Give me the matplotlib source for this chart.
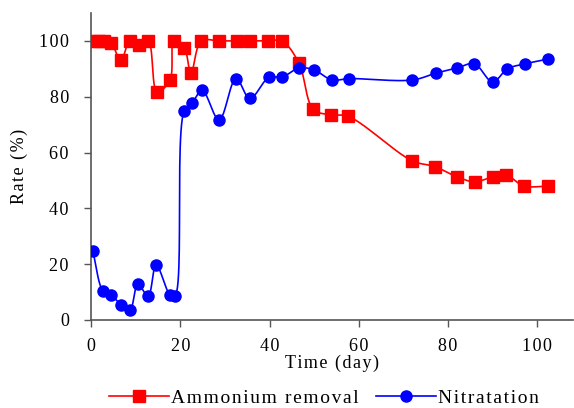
import numpy as np
import matplotlib
matplotlib.use("Agg")
import matplotlib.pyplot as plt
from matplotlib.lines import Line2D

plt.rcParams['font.family'] = ['Liberation Serif', 'DejaVu Serif']

amm_day = [0.2, 1.8, 3, 4.5, 6.7, 8.7, 10.8, 12.8, 14.8, 17.7, 18.6, 20.9, 22.4, 24.7,
           28.7, 32.7, 35.6, 39.7, 42.8, 46.6, 49.8, 53.8, 57.6, 72, 77, 82, 86, 90, 93, 97, 102.5]
amm_val = [100, 100, 100, 99.3, 93, 100, 98.6, 100, 81.7, 86, 100, 97.5, 88.5, 100,
           100, 100, 100, 100, 100, 92, 75.5, 73.5, 73, 57, 55, 51.3, 49.5, 51.3, 52, 48, 48]

nit_day = [0.4, 2.7, 4.5, 6.7, 8.7, 10.5, 12.8, 14.6, 17.7, 18.8, 20.9, 22.6, 24.9, 28.7,
           32.5, 35.6, 39.9, 42.8, 46.6, 50, 54, 57.8, 72, 77.4, 82, 85.9, 90, 93.3, 97.3, 102.4]
nit_val = [24.7, 10.4, 9, 5.5, 3.5, 12.8, 8.6, 19.7, 9, 8.6, 75, 77.6, 82.3, 71.7,
           86.5, 79.4, 87, 87, 90.3, 89.6, 86, 86.5, 86, 88.5, 90.3, 91.8, 85.3, 90, 91.8, 93.5]

xticks = [0, 20, 40, 60, 80, 100]
yticks = [0, 20, 40, 60, 80, 100]

HS = '\u200a'


def spaced(s):
    return HS.join(s)


def smooth(x, y, sx=4.46, sy=2.79, n=24, alpha=0.5):
    # centripetal Catmull-Rom curve through the points (drawing only)
    P = np.column_stack([np.asarray(x, float) * sx, np.asarray(y, float) * sy])
    P = np.vstack([2 * P[0] - P[1], P, 2 * P[-1] - P[-2]])
    out = []
    for i in range(1, len(P) - 2):
        p0, p1, p2, p3 = P[i-1], P[i], P[i+1], P[i+2]
        t0 = 0.0
        t1 = t0 + max(np.linalg.norm(p1 - p0), 1e-6) ** alpha
        t2 = t1 + max(np.linalg.norm(p2 - p1), 1e-6) ** alpha
        t3 = t2 + max(np.linalg.norm(p3 - p2), 1e-6) ** alpha
        t = np.linspace(t1, t2, n, endpoint=False)[:, None]
        A1 = (t1 - t) / (t1 - t0) * p0 + (t - t0) / (t1 - t0) * p1
        A2 = (t2 - t) / (t2 - t1) * p1 + (t - t1) / (t2 - t1) * p2
        A3 = (t3 - t) / (t3 - t2) * p2 + (t - t2) / (t3 - t2) * p3
        B1 = (t2 - t) / (t2 - t0) * A1 + (t - t0) / (t2 - t0) * A2
        B2 = (t3 - t) / (t3 - t1) * A2 + (t - t1) / (t3 - t1) * A3
        C = (t2 - t) / (t2 - t1) * B1 + (t - t1) / (t2 - t1) * B2
        out.append(C)
    out.append(P[-2][None, :])
    out = np.vstack(out)
    return out[:, 0] / sx, out[:, 1] / sy


fig = plt.figure(figsize=(5.74, 4.08), dpi=100)
ax = fig.add_axes([91/574, 88/408, (573-91)/574, (320-13)/408])

cx, cy = smooth(amm_day, amm_val)
ax.plot(cx, cy, color='#ff0000', lw=1.2, zorder=2)
ax.plot(amm_day, amm_val, ls='none', marker='s', ms=8, color='#ff0000', mec='#ff0000', zorder=3)

cx, cy = smooth(nit_day, nit_val)
ax.plot(cx, cy, color='#0000ff', lw=1.2, zorder=2)
ax.plot(nit_day, nit_val, ls='none', marker='o', ms=8, color='#0000ff', mec='#0000ff', zorder=3)

ax.set_xlim(0, 108)
ax.set_ylim(0, 110)
ax.set_xticks(xticks)
ax.set_xticklabels([spaced(str(v)) for v in xticks])
ax.set_yticks(yticks)
ax.set_yticklabels([spaced(str(v)) for v in yticks])
ax.spines['top'].set_visible(False)
ax.spines['right'].set_visible(False)
for s in ('left', 'bottom'):
    ax.spines[s].set_color('#555555')
    ax.spines[s].set_linewidth(1.2)
ax.tick_params(direction='out', length=5, width=1, color='#555555', labelcolor='black',
               labelsize=13)
ax.tick_params(axis='y', pad=11)
ax.tick_params(axis='x', pad=8)
ax.set_xlabel(spaced('Time (day)'), fontsize=13, labelpad=0)
ax.set_ylabel(spaced('Rate (%)'), fontsize=13, labelpad=8)

handles = [Line2D([], [], color='#ff0000', lw=1.2, marker='s', ms=8),
           Line2D([], [], color='#0000ff', lw=1.2, marker='o', ms=8)]
fig.legend(handles, [spaced('Ammonium removal'), spaced('Nitratation')],
           loc='center', bbox_to_anchor=(324/574, 1 - 398/408), ncol=2, frameon=False,
           fontsize=14, handlelength=3.1, columnspacing=0.9, handletextpad=0.1)

fig.savefig('out.png', dpi=100)
